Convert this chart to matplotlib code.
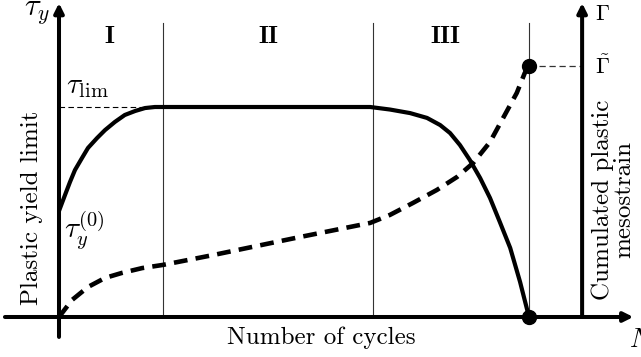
import matplotlib
matplotlib.use("Agg")
import matplotlib.pyplot as plt

plt.rcParams['font.family'] = 'serif'
plt.rcParams['font.serif'] = ['cmr10', 'DejaVu Serif']
plt.rcParams['mathtext.fontset'] = 'cm'
plt.rcParams['axes.unicode_minus'] = False

# Normalised data: N / N_f on x, tau / tau_lim and Gamma (scaled) on y
yield_N = [0.0, 0.0128, 0.0234, 0.0340, 0.0489, 0.0617, 0.0809, 0.0979, 0.119,
           0.140, 0.162, 0.183, 0.204, 0.662, 0.704, 0.747, 0.783, 0.811, 0.832,
           0.853, 0.874, 0.896, 0.917, 0.938, 0.960, 0.981, 1.0]
yield_tau = [0.505, 0.581, 0.643, 0.700, 0.757, 0.805, 0.852, 0.890, 0.929,
             0.962, 0.981, 0.995, 1.0, 1.0, 0.988, 0.971, 0.948, 0.914, 0.876,
             0.819, 0.748, 0.662, 0.567, 0.452, 0.329, 0.167, 0.0]

strain_N = [0.0, 0.0277, 0.0617, 0.0979, 0.134, 0.177, 0.221, 0.328, 0.513,
            0.662, 0.704, 0.753, 0.804, 0.847, 0.881, 0.917, 0.945, 0.974, 0.991, 1.0]
strain_G = [0.0, 0.081, 0.143, 0.186, 0.210, 0.233, 0.248, 0.295, 0.381,
            0.448, 0.486, 0.543, 0.605, 0.667, 0.733, 0.833, 0.948, 1.067, 1.162, 1.195]

stage_bounds = [0.221, 0.668, 1.0]
stage_labels = ['I', 'II', 'III']
stage_centers = [0.108, 0.445, 0.822]

tau_lim = 1.0
tau_0 = 0.505
gamma_tilde = 1.195
N_f = 1.0
right_axis = 1.113

fig = plt.figure(figsize=(6.41, 3.57), dpi=100)
ax = fig.add_axes([0, 0, 1, 1])
sx = 470.0
sy = 210.0
ox = 59.0
ax.set_xlim(-ox / sx, (641 - ox) / sx)
ax.set_ylim((317 - 357) / sy, 317 / sy)
ax.axis('off')

lw_axis = 2.9
arrow_kw = dict(arrowstyle='-|>', lw=lw_axis, color='k', mutation_scale=14, shrinkA=0, shrinkB=0)
# horizontal axis
ax.annotate('', xy=(1.222, 0), xytext=(-0.115, 0), arrowprops=arrow_kw)
# left axis
ax.annotate('', xy=(0, 1.495), xytext=(0, -0.095), arrowprops=arrow_kw)
# right axis
ax.annotate('', xy=(right_axis, 1.495), xytext=(right_axis, 0), arrowprops=arrow_kw)

# stage boundaries
for b in stage_bounds:
    ax.plot([b, b], [0, 1.40], color='#333333', lw=0.8)
for c, lab in zip(stage_centers, stage_labels):
    ax.text(c, 1.335, r'$\mathbf{%s}$' % lab, ha='center', va='center', fontsize=18)

# reference dashed lines
ax.plot([0, 0.2], [tau_lim, tau_lim], color='k', lw=0.8, dashes=(5, 3))
ax.plot([N_f, right_axis], [gamma_tilde, gamma_tilde], color='#333333', lw=0.9, dashes=(5, 3))

# curves
ax.plot(yield_N, yield_tau, color='k', lw=3.0, solid_capstyle='round', solid_joinstyle='round')
ax.plot(strain_N, strain_G, color='k', lw=3.3, dashes=(3.0, 1.8))

# markers
ax.plot([N_f, N_f], [0, gamma_tilde], 'o', color='k', markersize=10, zorder=5)

# labels
ax.text(-0.047, 1.45, r'$\tau_y$', ha='center', va='center', fontsize=22)
ax.text(0.015, tau_lim + 0.095, r'$\tau_{\mathrm{lim}}$', ha='left', va='center', fontsize=21)
ax.text(0.01, tau_0 - 0.09, r'$\tau_y^{(0)}$', ha='left', va='center', fontsize=21)
ax.text(1.140, 1.44, r'$\Gamma$', ha='left', va='center', fontsize=16)
ax.text(1.140, gamma_tilde, r'$\tilde{\Gamma}$', ha='left', va='center', fontsize=16)
ax.text(1.212, -0.108, r'$N$', ha='left', va='center', fontsize=19)

ax.text(-0.057, 0.52, 'Plastic yield limit', rotation=90, ha='center', va='center', fontsize=18)
ax.text(1.18, 0.56, 'Cumulated plastic\nmesostrain', rotation=90, ha='center', va='center',
        fontsize=18, linespacing=0.95, multialignment='center')
ax.text(0.558, -0.10, 'Number of cycles', ha='center', va='center', fontsize=18)

fig.savefig('out.png', dpi=100)
